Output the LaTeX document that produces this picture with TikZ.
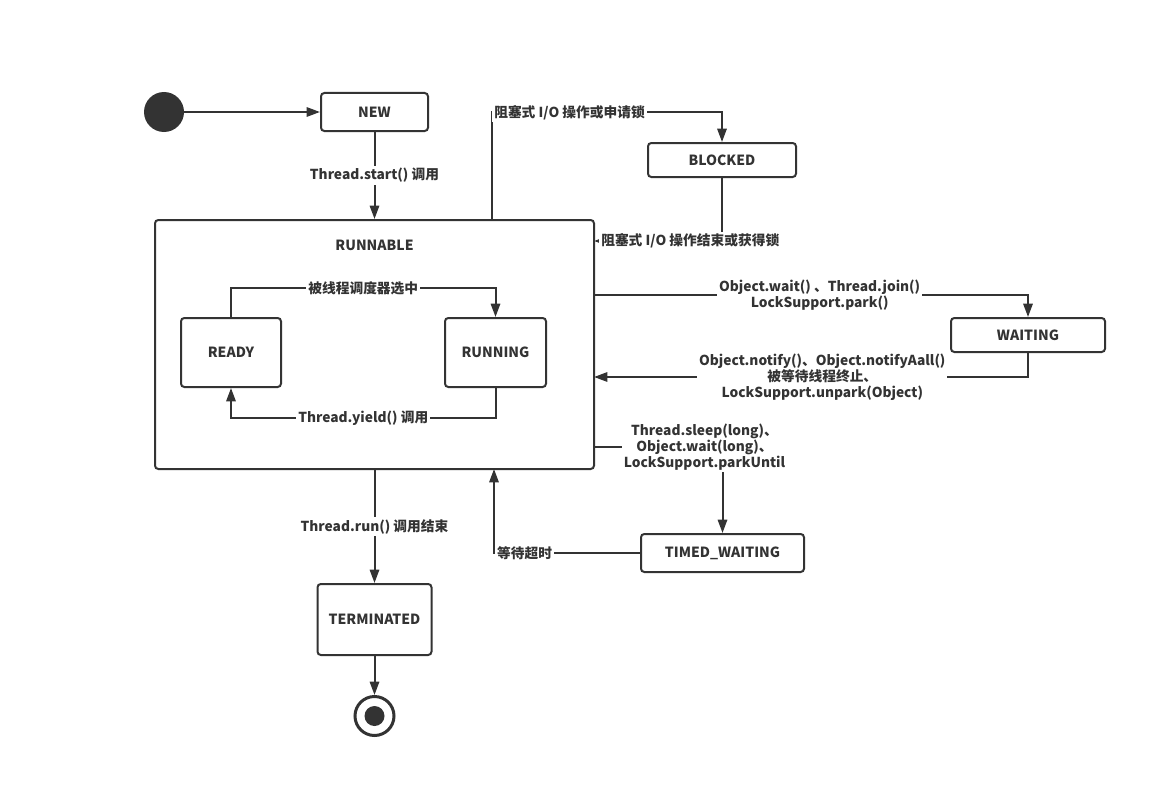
\documentclass[tikz,border=0pt]{standalone}
\usepackage{fontspec}
\setmainfont{Noto Sans CJK SC}
\usetikzlibrary{positioning,arrows.meta,calc}
\definecolor{ink}{HTML}{333333}
\tikzset{
  state/.style={draw=ink, line width=1.5pt, rounded corners=2.5pt, fill=white, inner sep=0pt, text=ink, font=\bfseries\fontsize{10.5}{12}\selectfont},
  flow/.style={draw=ink, line width=1.5pt, -{Triangle[length=10pt,width=7pt]}},
  lbl/.style={fill=white, inner sep=1.5pt, text=ink, align=center, font=\bfseries\fontsize{10.3}{12}\selectfont},
}

\begin{document}
\begin{tikzpicture}[x=0.75pt,y=-0.75pt]
\useasboundingbox (0,0) rectangle (1167,799);

% states
\node[circle, fill=ink, minimum size=30pt, inner sep=0pt] (start) at (164,112) {};
\node[state, minimum width=80.25pt, minimum height=28.5pt] (new) at (374.5,112) {NEW};
\node[state, minimum width=329.25pt, minimum height=186.75pt] (runnable) at (374.5,344.5) {};
\node[text=ink, font=\bfseries\fontsize{10.5}{12}\selectfont] (runlbl) at (374.5,245) {RUNNABLE};
\node[state, minimum width=75pt, minimum height=51.75pt] (ready) at (231,352.5) {READY};
\node[state, minimum width=75.75pt, minimum height=51.75pt] (running) at (495.5,352.5) {RUNNING};
\node[state, minimum width=111pt, minimum height=25.5pt] (blocked) at (722,160) {BLOCKED};
\node[state, minimum width=115.5pt, minimum height=25.5pt] (waiting) at (1028,335) {WAITING};
\node[state, minimum width=122.25pt, minimum height=28.5pt] (timed) at (722.5,553) {TIMED\_WAITING};
\node[state, minimum width=85.5pt, minimum height=53.25pt] (terminated) at (374.5,619.5) {TERMINATED};
\node[circle, draw=ink, line width=2.25pt, minimum size=29.25pt, inner sep=0pt] (finish) at (374.5,716) {};
\node[circle, fill=ink, minimum size=15pt, inner sep=0pt] (finishdot) at (finish) {};

% points on the RUNNABLE border
\coordinate (toBlk) at (492,220);
\coordinate (fromBlk) at (594,241);
\coordinate (toWait) at (594,295);
\coordinate (fromWait) at (594,377);
\coordinate (toTimed) at (594,447);
\coordinate (fromTimed) at (494,469);

% transitions
\draw[flow] (start) -- (new);
\draw[flow] (new) -- node[lbl] {Thread.start() 调用} (runnable);
\draw[flow] (ready.north) -- ++(0,-29) -| node[lbl, pos=0.25] {被线程调度器选中} (running);
\draw[flow] (running.south) -- ++(0,30) -| node[lbl, pos=0.25] {Thread.yield() 调用} (ready);
\draw[flow] (toBlk) |- ($(blocked.north)+(0,-30)$) -- (blocked);
\node[lbl, anchor=west] (blklbl) at (492,113) {阻塞式 I/O 操作或申请锁};
\draw[flow] (blocked) |- (fromBlk);
\node[lbl, anchor=west] (unblklbl) at (599,241) {阻塞式 I/O 操作结束或获得锁};
\draw[flow] (toWait) -| node[lbl, pos=0.26] {Object.wait() 、Thread.join()\\LockSupport.park()} (waiting);
\draw[flow] (waiting) |- node[lbl, pos=0.737] {Object.notify()、Object.notifyAall()\\被等待线程终止、\\LockSupport.unpark(Object)} (fromWait);
\draw[flow] (toTimed) -| node[lbl, pos=0.43] {Thread.sleep(long)、\\Object.wait(long)、\\LockSupport.parkUntil} (timed);
\draw[flow] (timed) -| node[lbl, pos=0.395] {等待超时} (fromTimed);
\draw[flow] (runnable) -- node[lbl] {Thread.run() 调用结束} (terminated);
\draw[flow] (terminated) -- (finish);
\end{tikzpicture}
\end{document}
